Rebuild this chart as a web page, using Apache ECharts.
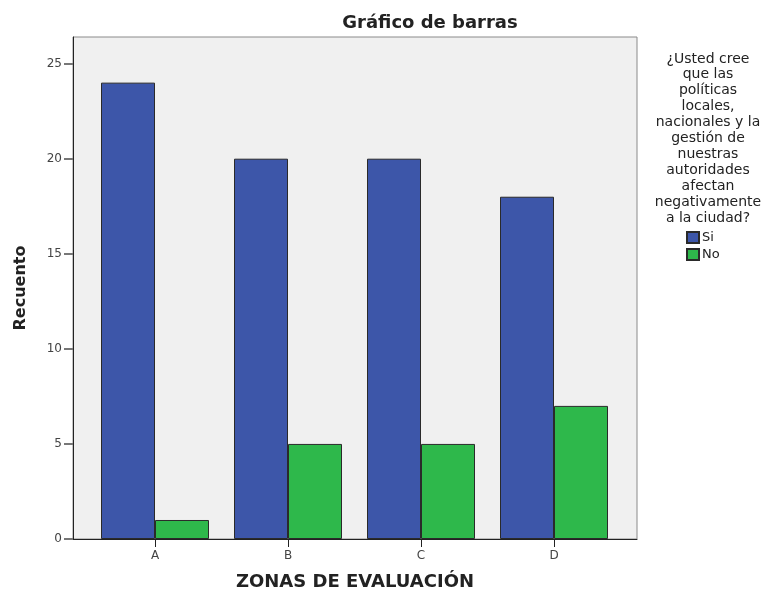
<!DOCTYPE html>
<html>
<head>
<meta charset="utf-8">
<script src="https://cdn.jsdelivr.net/npm/echarts@6/dist/echarts.min.js"></script>
<style>
  html, body { margin: 0; padding: 0; background: #fff; }
  #chart { width: 766px; height: 594px; }
</style>
</head>
<body>
<div id="chart"></div>
<script>
// datos
const zonas = ['A', 'B', 'C', 'D'];
const valoresSi = [24, 20, 20, 18];
const valoresNo = [1, 5, 5, 7];
const ticksY = [0, 5, 10, 15, 20, 25];
const maxY = 26.4;

const chart = echarts.init(document.getElementById('chart'));
const fuente = 'DejaVu Sans, sans-serif';

const option = {
  animation: false,
  textStyle: { fontFamily: fuente },
  title: [
    {
      text: 'Gráfico de barras',
      left: 425, top: 9, textAlign: 'center',
      textStyle: { fontSize: 18, fontWeight: 'bold', color: '#222', fontFamily: fuente }
    },
    {
      text: '¿Usted cree\nque las\npolíticas\nlocales,\nnacionales y la\ngestión de\nnuestras\nautoridades\nafectan\nnegativamente\na la ciudad?',
      left: 703, top: 46, textAlign: 'center',
      textStyle: { fontSize: 14, fontWeight: 'normal', color: '#222', lineHeight: 15.9, fontFamily: fuente }
    }
  ],
  legend: {
    orient: 'vertical',
    left: 686, top: 231, padding: 0,
    itemWidth: 12, itemHeight: 11, itemGap: 4,
    icon: 'rect',
    textStyle: { fontSize: 13, color: '#222', padding: [0, 0, 0, -2] },
    data: ['Si', 'No']
  },
  grid: [
    // marco del gráfico
    { left: 73, right: 129, top: 37, bottom: 55, outerBoundsMode: 'none', containLabel: false,
      show: true, backgroundColor: '#f0f0f0', borderColor: '#8a8a8a', borderWidth: 1 },
    // zona de barras
    { left: 88.5, right: 145.5, top: 37, bottom: 55, outerBoundsMode: 'none', containLabel: false }
  ],
  xAxis: [
    {
      gridIndex: 0, type: 'value', min: 0, max: 1,
      axisLine: { show: true, onZero: false, lineStyle: { color: '#222', width: 1 } },
      axisTick: { show: false }, axisLabel: { show: false }, splitLine: { show: false },
      name: 'ZONAS DE EVALUACIÓN', nameLocation: 'middle', nameGap: 34,
      nameTextStyle: { fontSize: 18, fontWeight: 'bold', color: '#222' }
    },
    {
      gridIndex: 1, type: 'category', data: zonas,
      axisLine: { show: false },
      axisTick: { show: true, alignWithLabel: true, length: 8, lineStyle: { color: '#222' } },
      axisLabel: { fontSize: 12, color: '#444', margin: 11 }
    }
  ],
  yAxis: [
    {
      gridIndex: 0, type: 'value', min: 0, max: maxY,
      axisLine: { show: true, lineStyle: { color: '#222', width: 1 } },
      axisTick: { show: true, length: 9, customValues: ticksY, lineStyle: { color: '#777', width: 2 } },
      axisLabel: { fontSize: 12, color: '#444', margin: 11, customValues: ticksY },
      splitLine: { show: false },
      name: 'Recuento', nameLocation: 'middle', nameGap: 44,
      nameTextStyle: { fontSize: 16, fontWeight: 'bold', color: '#222' }
    },
    {
      gridIndex: 1, type: 'value', min: 0, max: maxY, show: false, splitLine: { show: false }
    }
  ],
  series: [
    {
      name: 'Si', type: 'bar', xAxisIndex: 1, yAxisIndex: 1,
      data: valoresSi, barWidth: 54, barGap: '0%',
      itemStyle: { color: '#3d56a9', borderColor: '#2a2a2a', borderWidth: 1 }
    },
    {
      name: 'No', type: 'bar', xAxisIndex: 1, yAxisIndex: 1,
      data: valoresNo, barWidth: 54, barGap: '0%',
      itemStyle: { color: '#2eb84b', borderColor: '#2a2a2a', borderWidth: 1 }
    }
  ]
};

chart.setOption(option);
</script>
</body>
</html>
